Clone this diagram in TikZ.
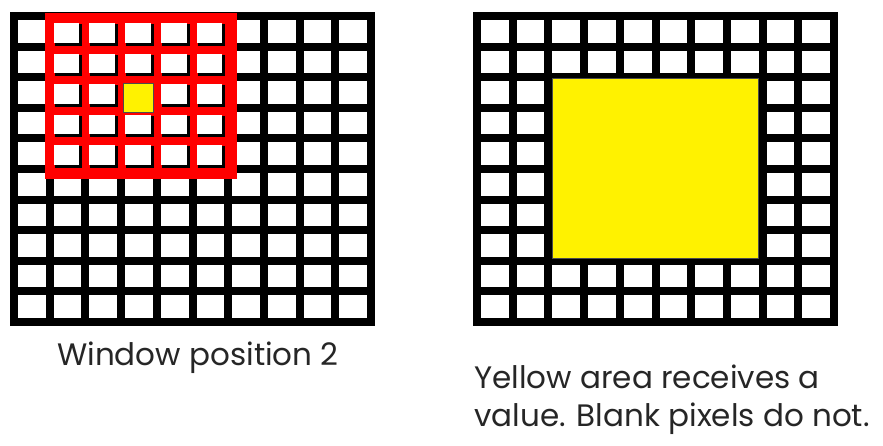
\documentclass[tikz,border=0pt]{standalone}
\usepackage{fontspec}
\setmainfont{Poppins}
\usetikzlibrary{positioning}

\begin{document}
\begin{tikzpicture}[
      x=1pt, y=-1pt,
      frame/.style={fill=black},
      hole/.style={fill=white},
      win/.style={fill=red},
      shade/.style={fill=black},
      hit/.style={fill=yellow, draw=black!70, line width=0.6pt},
      caption/.style={font=\fontsize{31}{38}\selectfont, text=black!85,
        inner sep=0pt, anchor=base west}
    ]
    \useasboundingbox (0,0) rectangle (883,445);
    \def\px{35.7}
    \def\py{30.6}
    \def\lw{8}

    % Left grid: 10 x 10 pixels
    \fill[frame] (10,12) rectangle ++(365,314);
    \foreach \i in {0,...,9}
      \foreach \j in {0,...,9}
        \fill[hole] ({10+\lw+\i*\px},{12+\lw+\j*\py}) rectangle ++({\px-\lw},{\py-\lw});

    % 5 x 5 window
    \fill[win] ({10+\px-1},13) rectangle ({10+6*\px+\lw+5},{12+5*\py+\lw+6});
    \foreach \i in {1,...,5}
      \foreach \j in {0,...,4} {
        \fill[shade] ({10+\lw+\i*\px+1},{12+\lw+\j*\py+4}) rectangle ++({\px-\lw},{\py-\lw-1});
        \fill[hole] ({10+\lw+\i*\px},{12+\lw+\j*\py+3}) rectangle ++({\px-\lw-2},{\py-\lw-3});
      }
    \filldraw[hit] ({10+\lw+3*\px-2},{12+\lw+2*\py+2}) rectangle ++({\px-\lw+2},{\py-2});

    % Right grid: 10 x 10 pixels
    \fill[frame] (473,12) rectangle ++(365,314);
    \foreach \i in {0,...,9}
      \foreach \j in {0,...,9}
        \fill[hole] ({473+\lw+\i*\px},{12+\lw+\j*\py}) rectangle ++({\px-\lw},{\py-\lw});

    % area that receives a value
    \filldraw[hit] ({473+\lw+2*\px},{12+\lw+2*\py-3}) rectangle ({473+8*\px},{12+8*\py+1});

    % Captions
    \node[caption] (winlabel) at (57,365) {Window position 2};
    \node[caption] (areanote) at (474,388) {Yellow area receives a};
    \node[caption] (blanknote) at ([yshift=-38.4pt]areanote.base west) {value. Blank pixels do not.};
  \end{tikzpicture}
\end{document}
